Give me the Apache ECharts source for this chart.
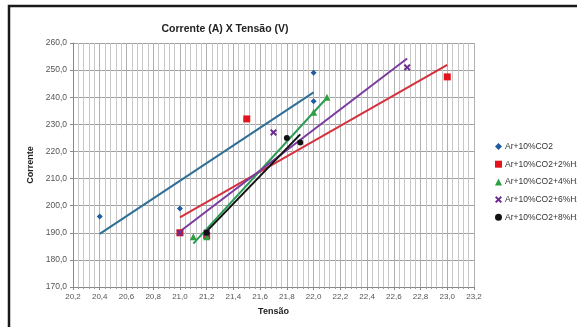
<!DOCTYPE html>
<html><head><meta charset="utf-8">
<script src="https://cdn.jsdelivr.net/npm/echarts@6/dist/echarts.min.js"></script>
<style>html,body{margin:0;padding:0;background:#fff}#c{width:577px;height:327px}</style>
</head><body><div id="c"></div>
<script>
// Series names
const names = ['Ar+10%CO2','Ar+10%CO2+2%H2','Ar+10%CO2+4%H2','Ar+10%CO2+6%H2','Ar+10%CO2+8%H2'];
// Data points [Tensão, Corrente]
const s0 = [[20.4,196],[21.0,199],[22.0,249],[22.0,238.5]];
const s2 = [[21.0,190],[21.2,189],[21.5,232],[23.0,247.5]];
const s4 = [[21.1,188.5],[21.2,188.5],[22.0,234.5],[22.1,240]];
const s6 = [[21.0,190],[21.2,190],[21.7,227],[22.7,251]];
const s8 = [[21.2,190],[21.8,225],[21.9,223.3]];
// Linear trendline endpoints
const t0 = [[20.4,189.6],[22.0,241.8]];
const t2 = [[21.0,195.7],[23.0,251.9]];
const t4 = [[21.1,186.0],[22.1,239.8]];
const t6 = [[21.0,190.5],[22.7,254.3]];
const t8 = [[21.2,190.5],[21.9,226.3]];
// Axis ticks
const xTicks = {min:20.2, max:23.2, interval:0.2};
const yTicks = {min:170, max:260, interval:10};

const markerColors = ['#1f5c9e','#e3141b','#2ea043','#6a2c91','#111111'];
const lineColors = ['#2f6f96','#d6303e','#2b9a55','#7a3aa0','#111111'];
const symbols = ['diamond','rect','triangle','path://M0,2L2,0L5,3L8,0L10,2L7,5L10,8L8,10L5,7L2,10L0,8L3,5Z','circle'];
const sizes = [6,7,7,7,6];
const pts = [s0,s2,s4,s6,s8];
const trends = [t0,t2,t4,t6,t8];
const fmt = v => v.toFixed(1).replace('.',',');
const font = 'Liberation Sans, Arial, sans-serif';

const series = [];
for (let i=0;i<5;i++){
  series.push({type:'line', data:trends[i], symbol:'none', silent:true, z:2,
    lineStyle:{color:lineColors[i], width:2}, legendHoverLink:false});
}
for (let i=0;i<5;i++){
  series.push({type:'scatter', name:names[i], data:pts[i], symbol:symbols[i], symbolSize:sizes[i], z:3,
    itemStyle:{color:markerColors[i], opacity:1}});
}

const chart = echarts.init(document.getElementById('c'), null, {renderer:'canvas'});
chart.setOption({
  animation:false,
  backgroundColor:'#fff',
  title:{text:'Corrente (A) X Tensão (V)', left:220, top:19, textAlign:'center',
    textStyle:{fontSize:10.5, fontWeight:'bold', color:'#222', fontFamily:font}},
  legend:{orient:'vertical', left:490, top:137, itemWidth:7, itemHeight:7, itemGap:8.7,
    data:names, textStyle:{fontSize:8.5, color:'#333', fontFamily:font, padding:[0,0,0,-2]}},
  grid:{left:73, right:103, top:43, bottom:40},
  xAxis:{type:'value', min:xTicks.min, max:xTicks.max, interval:xTicks.interval,
    name:'Tensão', nameLocation:'middle', nameGap:20,
    nameTextStyle:{fontSize:9, fontWeight:'bold', color:'#222', fontFamily:font},
    axisLine:{lineStyle:{color:'#888'}}, axisTick:{show:true, length:3, lineStyle:{color:'#888'}},
    minorTick:{show:true, splitNumber:5, length:2, lineStyle:{color:'#999'}},
    splitLine:{show:true, lineStyle:{color:'#b0b0b0', width:1}},
    minorSplitLine:{show:true, lineStyle:{color:'#c8c8c8', width:1}},
    axisLabel:{formatter:fmt, fontSize:8, color:'#555', fontFamily:font, margin:6}},
  yAxis:{type:'value', min:yTicks.min, max:yTicks.max, interval:yTicks.interval,
    name:'Corrente', nameLocation:'middle', nameGap:38, nameRotate:90,
    nameTextStyle:{fontSize:9, fontWeight:'bold', color:'#222', fontFamily:font},
    axisLine:{show:true, lineStyle:{color:'#888'}}, axisTick:{show:true, length:3, lineStyle:{color:'#888'}},
    splitLine:{show:true, lineStyle:{color:'#a0a0a0', width:1}},
    axisLabel:{formatter:fmt, fontSize:8.5, color:'#555', fontFamily:font, margin:6}},
  graphic:[{type:'rect', shape:{x:9, y:6, width:620, height:400}, silent:true, z:100,
    style:{fill:'none', stroke:'#1a1a1a', lineWidth:2.5}}],
  series:series
});
</script></body></html>
